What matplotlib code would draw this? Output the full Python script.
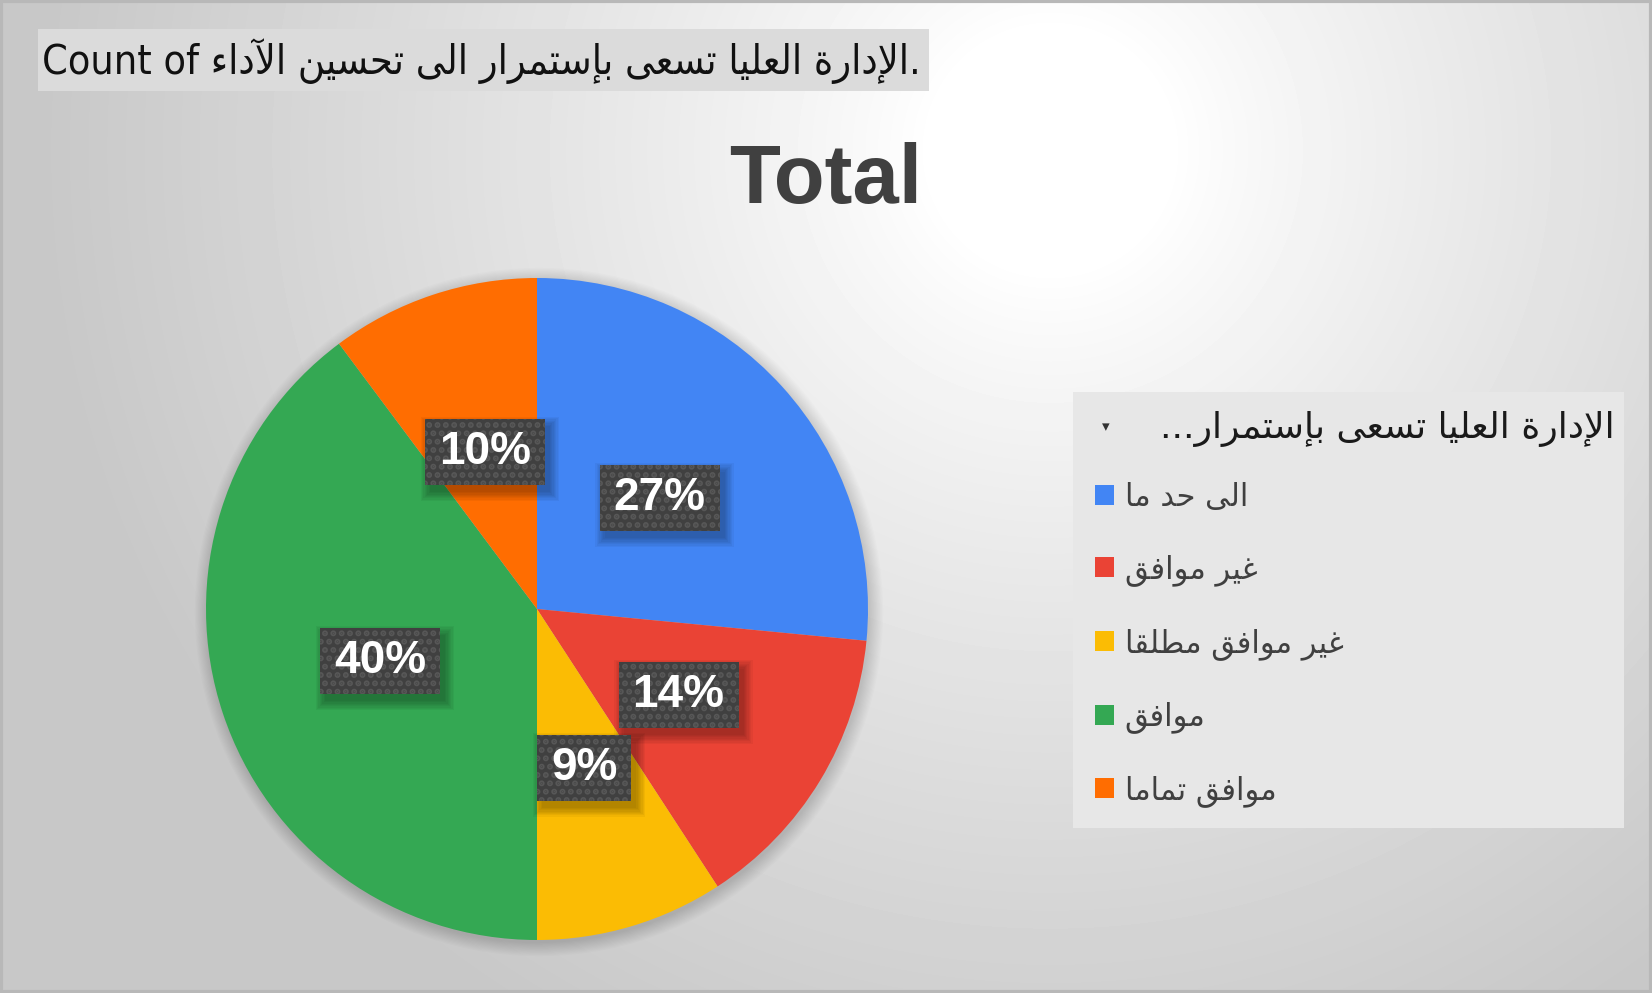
import numpy as np
import matplotlib.pyplot as plt
from matplotlib.patches import Rectangle, Circle

# DATA -----------------------------------------------------------------------+
categories = ['الى حد ما', 'غير موافق', 'غير موافق مطلقا', 'موافق', 'موافق تماما']
counts = [26, 14, 9, 39, 10]
colors = ['#4285F4', '#EA4335', '#FBBC04', '#34A853', '#FF6D01']
question = 'الإدارة العليا تسعى بإستمرار الى تحسين الآداء'
legend_title = 'الإدارة العليا تسعى بإستمرار'
chart_title = 'Total'

# ARABIC SHAPING (matplotlib has no shaping / bidi) ---------------------------+
# isolated, final, initial, medial
FORMS = {
	'ء': ('\uFE80',),
	'آ': ('\uFE81', '\uFE82'),
	'أ': ('\uFE83', '\uFE84'),
	'إ': ('\uFE87', '\uFE88'),
	'ا': ('\uFE8D', '\uFE8E'),
	'ب': ('\uFE8F', '\uFE90', '\uFE91', '\uFE92'),
	'ة': ('\uFE93', '\uFE94'),
	'ت': ('\uFE95', '\uFE96', '\uFE97', '\uFE98'),
	'ح': ('\uFEA1', '\uFEA2', '\uFEA3', '\uFEA4'),
	'د': ('\uFEA9', '\uFEAA'),
	'ر': ('\uFEAD', '\uFEAE'),
	'س': ('\uFEB1', '\uFEB2', '\uFEB3', '\uFEB4'),
	'ط': ('\uFEC1', '\uFEC2', '\uFEC3', '\uFEC4'),
	'ع': ('\uFEC9', '\uFECA', '\uFECB', '\uFECC'),
	'غ': ('\uFECD', '\uFECE', '\uFECF', '\uFED0'),
	'ف': ('\uFED1', '\uFED2', '\uFED3', '\uFED4'),
	'ق': ('\uFED5', '\uFED6', '\uFED7', '\uFED8'),
	'ل': ('\uFEDD', '\uFEDE', '\uFEDF', '\uFEE0'),
	'م': ('\uFEE1', '\uFEE2', '\uFEE3', '\uFEE4'),
	'ن': ('\uFEE5', '\uFEE6', '\uFEE7', '\uFEE8'),
	'و': ('\uFEED', '\uFEEE'),
	'ى': ('\uFEEF', '\uFEF0'),
	'ي': ('\uFEF1', '\uFEF2', '\uFEF3', '\uFEF4'),
}
LAMALEF = {'آ': ('\uFEF5', '\uFEF6'), 'أ': ('\uFEF7', '\uFEF8'),
		   'إ': ('\uFEF9', '\uFEFA'), 'ا': ('\uFEFB', '\uFEFC')}

def dual(c):
	return c in FORMS and len(FORMS[c]) == 4

def joins(c):
	return c in FORMS and len(FORMS[c]) > 1

def rtl(s):
	out = []
	i = 0
	while i < len(s):
		c = s[i]
		if c not in FORMS:
			out.append(c)
			i += 1
			continue
		prev = s[i-1] if i > 0 else ''
		nxt = s[i+1] if i+1 < len(s) else ''
		link_prev = dual(prev) and joins(c)
		if c == 'ل' and nxt in LAMALEF:
			out.append(LAMALEF[nxt][1 if link_prev else 0])
			i += 2
			continue
		link_next = dual(c) and joins(nxt)
		f = FORMS[c]
		if link_prev and link_next:
			g = f[3]
		elif link_prev:
			g = f[1]
		elif link_next:
			g = f[2]
		else:
			g = f[0]
		out.append(g)
		i += 1
	return ''.join(out)[::-1]

# FIGURE ---------------------------------------------------------------------+
plt.rcParams['hatch.linewidth'] = 3.0
W, H = 1652, 993
fig = plt.figure(figsize=(W/100, H/100), dpi=100)

# background canvas in pixel coordinates (origin top-left)
bg = fig.add_axes([0, 0, 1, 1])
bg.set_axis_off()
yy, xx = np.mgrid[0:H, 0:W]
r = np.hypot(xx - 1050, yy - 150)
bg.imshow(1 - 0.215*np.clip((r - 120)/880, 0, 1)**0.85, cmap='gray', vmin=0, vmax=1,
		  extent=[0, W, H, 0], aspect='auto', interpolation='bilinear')

# header box
bg.add_patch(Rectangle((38, 29), 891, 62, fc='#dbdbdb', ec='none'))
bg.text(42, 61, 'Count of ' + rtl(question) + '.', fontsize=29.5, color='#111111',
		va='center', ha='left', family='DejaVu Sans', stretch='condensed')

# title
bg.text(826, 203, chart_title, fontsize=60, weight='bold', color='#404040',
		ha='center', va='baseline', family='Liberation Sans')

# legend panel
bg.add_patch(Rectangle((1073, 392), 551, 436, fc='#e7e7e7', ec='none'))
grad = np.linspace(0.87, 0.75, 50)[:, None]
bg.imshow(grad, cmap='gray', vmin=0, vmax=1, extent=[1077, 1619, 458, 395], aspect='auto')
bg.text(1615, 429, '...' + rtl(legend_title), fontsize=26, color='#1a1a1a',
		ha='right', va='center', family='DejaVu Sans')
bg.text(1106, 427, '▾', fontsize=11, color='#333333', ha='center', va='center',
		family='DejaVu Sans')

# border
bg.add_patch(Rectangle((1, 1), W-2, H-2, fc='none', ec='#b8b8b8', lw=3))
bg.set_xlim(0, W)
bg.set_ylim(H, 0)

# PIE ------------------------------------------------------------------------+
cx, cy, R = 537, 609, 331
ax = fig.add_axes([(cx-R)/W, (H-cy-R)/H, 2*R/W, 2*R/H])
px = 1.0/R

# soft pie shadow
for k in range(12):
	ax.add_patch(Circle((2*px, -3*px), 1 + k*1.2*px, fc='black', alpha=0.012, ec='none',
						zorder=0, clip_on=False))

wedges, texts, autotexts = ax.pie(counts, colors=colors, startangle=90, counterclock=False,
								  autopct='%1.0f%%', pctdistance=0.5, radius=1,
								  wedgeprops=dict(edgecolor='none', zorder=1),
								  textprops=dict(color='white', fontsize=33, weight='bold',
												 family='Liberation Sans'))
ax.set_xlim(-1, 1)
ax.set_ylim(-1, 1)

fig.canvas.draw()
renderer = fig.canvas.get_renderer()
for t in autotexts:
	t.set_zorder(6)
	x, y = t.get_position()
	w = t.get_window_extent(renderer).width*px + 28*px
	h = 66*px
	x0, y0 = x - w/2, y - h/2
	for k in range(8):
		e = k*1.3*px
		ax.add_patch(Rectangle((x0 + 5*px - e, y0 - 7*px - e), w + 2*e, h + 2*e,
							   fc='black', alpha=0.04, ec='none', zorder=3))
	ax.add_patch(Rectangle((x0, y0), w, h, fc='#404040', ec='#575757', lw=0,
						   hatch='..', zorder=5))

# LEGEND ---------------------------------------------------------------------+
fig.legend(wedges, [rtl(c) for c in categories], loc='upper left',
		   bbox_to_anchor=(1095/W, 1 - 483/H), frameon=False, fontsize=22,
		   labelcolor='#404040', handlelength=0.62, handleheight=0.62,
		   handletextpad=0.35, labelspacing=1.37, borderpad=0, borderaxespad=0)

fig.savefig('out.png', dpi=100)
